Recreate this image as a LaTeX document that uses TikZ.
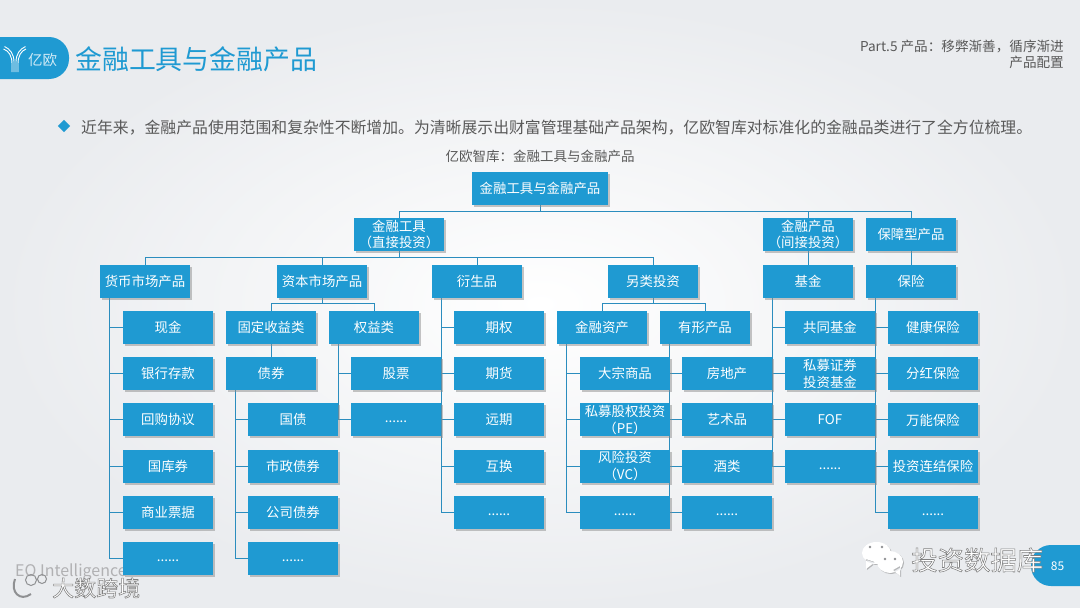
\documentclass[tikz,border=0pt]{standalone}
\usepackage{fontspec}
\setmainfont{Noto Sans CJK SC}
\usetikzlibrary{positioning,shadows,backgrounds}
\definecolor{boxblue}{HTML}{1F9AD2}
\definecolor{linkblue}{HTML}{2B8DBE}
\definecolor{bodygray}{HTML}{595959}
\definecolor{markgray}{HTML}{8F9092}
\definecolor{bgedge}{HTML}{EAECEF}
\newcommand{\outlined}[1]{\special{pdf:code q 2 Tr 0.55 w 0.5 0.5 0.5 RG}#1\special{pdf:code Q 0 Tr}}
\newcommand{\moredots}{\raisebox{-6pt}{......}}

\begin{document}
\begin{tikzpicture}[
    x=1pt, y=-1pt,
    node distance=13.2pt,
    block/.style={rectangle, fill=boxblue, text=white, minimum width=90pt, minimum height=33pt, inner sep=0pt, outer sep=0pt, align=center,
        font=\fontsize{13.4}{16.5}\selectfont, drop shadow={shadow xshift=2pt, shadow yshift=-2pt, fill=black!45, opacity=.5}},
    link/.style={draw=linkblue, line width=1pt},
    plain/.style={inner sep=0pt, text=bodygray, align=right},
    bubble/.style={fill=white, drop shadow={shadow xshift=1pt, shadow yshift=-1pt, fill=black!50, opacity=.5}},
    stripe/.style={white, line width=.9pt}
]
\useasboundingbox (0,0) rectangle (1080,608);
\begin{pgfonlayer}{background}
\shade[inner color=white, outer color=bgedge] (0,0) rectangle (1080,608);
\end{pgfonlayer}

\fill[boxblue, rounded corners=20pt] (-30,37) rectangle (69,79);
\fill[boxblue, rounded corners=20pt] (1031,545) rectangle (1110,586);
\draw[stripe] (12,72) -- (12,64) .. controls (12,56) and (9,51) .. (3.5,49);
\draw[stripe] (14,72) -- (14,62) .. controls (14,54) and (10,49) .. (4.5,46.5);
\draw[stripe] (16,72) -- (16,62) .. controls (16,54) and (20,49) .. (25.5,46.5);
\draw[stripe] (18,72) -- (18,64) .. controls (18,56) and (21,51) .. (26,49);
\node[text=white!80!boxblue, font=\fontsize{14.5}{16}\selectfont] (logo) at (42.5,60) {亿欧};
\node[text=boxblue, font=\fontsize{26.9}{30}\selectfont, anchor=west, inner sep=0pt] (title) at (75,59) {金融工具与金融产品};
\node[plain, anchor=north east, font=\fontsize{13.6}{16}\selectfont] (part) at (1064,40) {Part.5 产品：移弊渐善，循序渐进\\产品配置};
\node[fill=boxblue, rotate=45, minimum size=8.5pt, inner sep=0pt] (bullet) at (64,126) {};
\node[plain, anchor=west, font=\fontsize{15.85}{18}\selectfont] (intro) at (81,127.5) {近年来，金融产品使用范围和复杂性不断增加。为清晰展示出财富管理基础产品架构，亿欧智库对标准化的金融品类进行了全方位梳理。};
\node[plain, font=\fontsize{13.5}{16}\selectfont] (caption) at (540,156) {亿欧智库：金融工具与金融产品};

\node[text=markgray!70, anchor=west, inner sep=0pt, font=\fontsize{16}{18}\selectfont] (eo) at (15,572) {EO Intelligence};

\node[block, minimum width=136pt] (root) at (540,188.5) {金融工具与金融产品};
\node[block] (tool) at (399,234.5) {金融工具\\（直接投资）};
\node[block] (product) at (808,234.5) {金融产品\\（间接投资）};
\node[block] (insured) at (911,234.5) {保障型产品};

\node[block] (money) at (145,281) {货币市场产品};
\node[block] (capital) at (322,281) {资本市场产品};
\node[block] (deriv) at (477,281) {衍生品};
\node[block] (alter) at (653,281) {另类投资};
\node[block] (fund) at (808,281) {基金};
\node[block] (insure) at (911,281) {保险};

\node[block] (cash) at (168,327.5) {现金};
\node[block, below=of cash] (deposit) {银行存款};
\node[block, below=of deposit] (repo) {回购协议};
\node[block, below=of repo] (bill) {国库券};
\node[block, below=of bill] (paper) {商业票据};
\node[block, below=of paper] (moneymore) {\moredots};

\node[block] (fixed) at (271,327.5) {固定收益类};
\node[block, below=of fixed] (bond) {债券};
\node[block] (gov) at (293,419.9) {国债};
\node[block, below=of gov] (muni) {市政债券};
\node[block, below=of muni] (corp) {公司债券};
\node[block, below=of corp] (bondmore) {\moredots};

\node[block] (equity) at (374,327.5) {权益类};
\node[block] (stock) at (396,373.7) {股票};
\node[block, below=of stock] (equitymore) {\moredots};

\node[block] (option) at (499,327.5) {期权};
\node[block, below=of option] (future) {期货};
\node[block, below=of future] (forward) {远期};
\node[block, below=of forward] (swap) {互换};
\node[block, below=of swap] (derivmore) {\moredots};

\node[block] (asset) at (602,327.5) {金融资产};
\node[block] (goods) at (625,373.7) {大宗商品};
\node[block, below=of goods] (pe) {私募股权投资\\（PE）};
\node[block, below=of pe] (vc) {风险投资\\（VC）};
\node[block, below=of vc] (assetmore) {\moredots};

\node[block] (tangible) at (705,327.5) {有形产品};
\node[block] (estate) at (727,373.7) {房地产};
\node[block, below=of estate] (art) {艺术品};
\node[block, below=of art] (wine) {酒类};
\node[block, below=of wine] (tangiblemore) {\moredots};

\node[block] (mutual) at (830,327.5) {共同基金};
\node[block, below=of mutual] (private) {私募证券\\投资基金};
\node[block, below=of private] (fof) {FOF};
\node[block, below=of fof] (fundmore) {\moredots};

\node[block] (health) at (933,327.5) {健康保险};
\node[block, below=of health] (bonus) {分红保险};
\node[block, below=of bonus] (universal) {万能保险};
\node[block, below=of universal] (linked) {投资连结保险};
\node[block, below=of linked] (insuremore) {\moredots};

\begin{pgfonlayer}{background}
\draw[link] (root.south) -- ++(0,6) -| (tool.north);
\draw[link] (root.south) -- ++(0,6) -| (product.north);
\draw[link] (root.south) -- ++(0,6) -| (insured.north);
\draw[link] (tool.south) -- ++(0,6) -| (money.north);
\draw[link] (tool.south) -- ++(0,6) -| (capital.north);
\draw[link] (tool.south) -- ++(0,6) -| (deriv.north);
\draw[link] (tool.south) -- ++(0,6) -| (alter.north);
\draw[link] (product) -- (fund);
\draw[link] (insured) -- (insure);
\draw[link] (capital.south) -- ++(0,6) -| (fixed.north);
\draw[link] (capital.south) -- ++(0,6) -| (equity.north);
\draw[link] (alter.south) -- ++(0,6) -| (asset.north);
\draw[link] (alter.south) -- ++(0,6) -| (tangible.north);
\draw[link] (fixed) -- (bond);

\draw[link] ([xshift=9.5pt]money.south west) |- (cash.west);
\draw[link] ([xshift=9.5pt]money.south west) |- (deposit.west);
\draw[link] ([xshift=9.5pt]money.south west) |- (repo.west);
\draw[link] ([xshift=9.5pt]money.south west) |- (bill.west);
\draw[link] ([xshift=9.5pt]money.south west) |- (paper.west);
\draw[link] ([xshift=9.5pt]money.south west) |- (moneymore.west);

\draw[link] ([xshift=9pt]bond.south west) |- (gov.west);
\draw[link] ([xshift=9pt]bond.south west) |- (muni.west);
\draw[link] ([xshift=9pt]bond.south west) |- (corp.west);
\draw[link] ([xshift=9pt]bond.south west) |- (bondmore.west);

\draw[link] ([xshift=9pt]equity.south west) |- (stock.west);
\draw[link] ([xshift=9pt]equity.south west) |- (equitymore.west);

\draw[link] ([xshift=9pt]deriv.south west) |- (option.west);
\draw[link] ([xshift=9pt]deriv.south west) |- (future.west);
\draw[link] ([xshift=9pt]deriv.south west) |- (forward.west);
\draw[link] ([xshift=9pt]deriv.south west) |- (swap.west);
\draw[link] ([xshift=9pt]deriv.south west) |- (derivmore.west);

\draw[link] ([xshift=9pt]asset.south west) |- (goods.west);
\draw[link] ([xshift=9pt]asset.south west) |- (pe.west);
\draw[link] ([xshift=9pt]asset.south west) |- (vc.west);
\draw[link] ([xshift=9pt]asset.south west) |- (assetmore.west);

\draw[link] ([xshift=9pt]tangible.south west) |- (estate.west);
\draw[link] ([xshift=9pt]tangible.south west) |- (art.west);
\draw[link] ([xshift=9pt]tangible.south west) |- (wine.west);
\draw[link] ([xshift=9pt]tangible.south west) |- (tangiblemore.west);

\draw[link] ([xshift=9pt]fund.south west) |- (mutual.west);
\draw[link] ([xshift=9pt]fund.south west) |- (private.west);
\draw[link] ([xshift=9pt]fund.south west) |- (fof.west);
\draw[link] ([xshift=9pt]fund.south west) |- (fundmore.west);

\draw[link] ([xshift=9pt]insure.south west) |- (health.west);
\draw[link] ([xshift=9pt]insure.south west) |- (bonus.west);
\draw[link] ([xshift=9pt]insure.south west) |- (universal.west);
\draw[link] ([xshift=9pt]insure.south west) |- (linked.west);
\draw[link] ([xshift=9pt]insure.south west) |- (insuremore.west);
\end{pgfonlayer}

\node[text=white, font=\fontsize{12}{14}\selectfont] (page) at (1057.5,566) {85};
\node[text=white, anchor=west, inner sep=0pt, font=\fontsize{26.4}{30}\selectfont] (wechatname) at (911,560) {\outlined{投资数据库}};
\path[bubble] (876.5,553) ellipse (14.5 and 11) (866,559) -- (866,569) -- (875,562) -- cycle;
\path[bubble] (890,562) ellipse (13 and 11) (893,570) -- (900,576) -- (900,566) -- cycle;
\fill[markgray] (870,547) circle (1.3) (882,547) circle (1.3) (885,559) circle (1.3) (895,559) circle (1.3);

\node[text=white, anchor=west, inner sep=0pt, font=\fontsize{22}{24}\selectfont] (border) at (52,588) {\outlined{大数跨境}};
\draw[markgray, line width=2pt] (15,579) .. controls (10,592) and (20,602) .. (31,594);
\draw[markgray, line width=1pt] (31,580) circle (5.5) (42,579) circle (4.5);
\end{tikzpicture}
\end{document}
